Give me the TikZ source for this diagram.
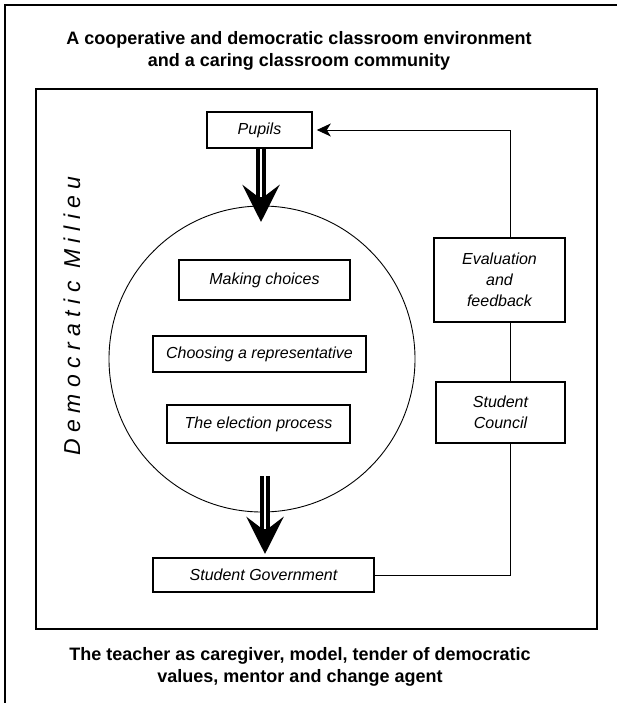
\documentclass[tikz,border=0pt]{standalone}
\usepackage{fontspec}
\setmainfont{Liberation Sans}
\newfontfamily\spacedfont[LetterSpace=28]{Liberation Sans}
\usetikzlibrary{arrows.meta,calc,positioning}

\begin{document}
\begin{tikzpicture}
  [x=1pt, y=-1pt,
  every node/.style={font=\fontsize{16}{21}\selectfont\itshape},
  box/.style={draw, line width=1.6pt, inner sep=0pt, align=center},
 ]
  \tikzstyle{frame}=[line width=2pt]
  \tikzstyle{link}=[draw, line width=0.9pt]
  \tikzstyle{bigarrow}=[line width=10pt, -{Stealth[length=37pt,width=37pt,inset=14pt]},
    postaction={draw=white, line width=1.5pt, -, shorten >=25pt}]
  \tikzstyle{heading}=[font=\fontsize{18}{21.5}\selectfont\bfseries, align=center]

\useasboundingbox (0,0) rectangle (616,703);

% frames
\draw[frame] (5,720) -- (5,5) -- (630,5);
\draw[frame] (36,89) rectangle (597,629);

\node[heading] (env) at (299,51) {A cooperative and democratic classroom environment\\and a caring classroom community};
\node[heading] (teacher) at (300,667) {The teacher as caregiver, model, tender of democratic\\values, mentor and change agent};

\node[rotate=90, font=\fontsize{23}{26}\selectfont\spacedfont\itshape] (milieu) at (72,316) {Democratic Milieu};

% the circle and what happens inside it
\node[draw, circle, minimum size=306pt, inner sep=0pt, line width=0.9pt] (ring) at (262,359) {};
\node[box, minimum width=105pt, minimum height=36pt] (pupils) at (259.5,130) {Pupils};
\node[box, minimum width=171pt, minimum height=40pt] (choices) at (264.5,280) {Making choices};
\node[box, minimum width=213pt, minimum height=36pt] (rep) at (259.5,354) {Choosing a representative};
\node[box, minimum width=183pt, minimum height=38pt] (election) at (258.5,424) {The election process};
\node[box, minimum width=221pt, minimum height=34pt] (govt) at (263.5,575) {Student Government};

% feedback loop
\node[box, minimum width=131pt, minimum height=84pt] (evaluation) at (499.5,280) {Evaluation\\and\\feedback};
\node[box, minimum width=129pt, minimum height=61pt] (council) at (500.5,412.5) {Student\\Council};

\coordinate (up) at (510,130);
\coordinate (down) at (510,575);
\coordinate (in) at (261,222);
\coordinate (out) at (265,476);
\coordinate (land) at (265,554);

\draw[bigarrow] (pupils.south -| in) -- (in);
\draw[bigarrow] (out) -- (land);

\draw[link] (govt.east) -- (down) -- (down |- council.south);
\draw[link] (council.north -| down) -- (down |- evaluation.south);
\draw[link, -{Stealth[length=14pt,width=13pt,inset=4pt]}, shorten >=4pt]
  (up |- evaluation.north) -- (up) -- (pupils.east);
\end{tikzpicture}
\end{document}
